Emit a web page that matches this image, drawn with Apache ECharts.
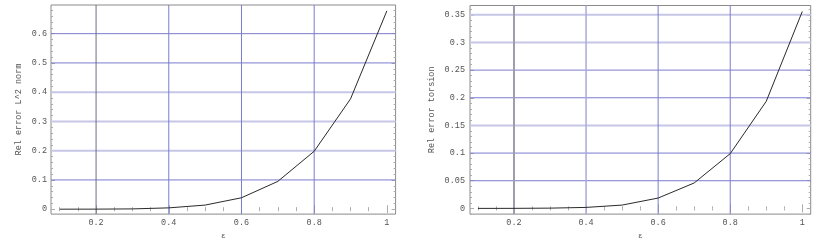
<!DOCTYPE html>
<html><head><meta charset="utf-8">
<script src="https://cdn.jsdelivr.net/npm/echarts@6/dist/echarts.min.js"></script>
<style>html,body{margin:0;padding:0;background:#fff;}#c{width:831px;height:245px;}</style>
</head><body><div id="c"></div>
<script>
// ---- data ----
var eps = [0.1, 0.2, 0.3, 0.4, 0.5, 0.6, 0.7, 0.8, 0.9, 1.0];
var relErrL2 = [0, 0.0002, 0.001, 0.0045, 0.014, 0.039, 0.095, 0.198, 0.377, 0.678];
var relErrTorsion = [0, 0.0001, 0.0005, 0.0018, 0.006, 0.0187, 0.046, 0.099, 0.1936, 0.356];
var xTicks = [0.2, 0.4, 0.6, 0.8, 1];
var yTicksL = [0, 0.1, 0.2, 0.3, 0.4, 0.5, 0.6];
var yTicksR = [0, 0.05, 0.1, 0.15, 0.2, 0.25, 0.3, 0.35];
var xGridL = [0.2, 0.4, 0.6, 0.8];
var yGridL = [0.1, 0.2, 0.3, 0.4, 0.5, 0.6];
var xGridR = [0.2, 0.4, 0.6, 0.8];
var yGridR = [0.05, 0.1, 0.15, 0.2, 0.25, 0.3, 0.35];

// ---- styles ----
var FONT = "'Liberation Mono','DejaVu Sans Mono',monospace";
var TXT = '#555';
var FRAME = '#8a8a8a';
var TICK = '#ababab';
var S_DARK = {color: '#6c6c86', width: 1};
var S_GRAY = {color: '#9c9cab', width: 2};
var S_BLUE = {color: '#7b7bcf', width: 1};
var S_LBLUE = {color: '#a9a9dd', width: 1.5};
var S_LAV = {color: '#c6c6e7', width: 2};
var xStyleL = [S_DARK, S_BLUE, S_BLUE, S_BLUE];
var yStyleL = [S_BLUE, S_LAV, S_LAV, S_LAV, S_BLUE, S_BLUE];
var xStyleR = [S_GRAY, S_LBLUE, S_BLUE, S_BLUE];
var yStyleR = [S_BLUE, S_BLUE, S_LAV, S_BLUE, S_BLUE, S_LAV, S_LAV];

function minorVals(min, max, step) {
  var out = [];
  var start = Math.ceil(min / step - 1e-9);
  for (var k = start; k * step <= max + 1e-9; k++) out.push(+(k * step).toFixed(6));
  return out;
}

var grids = [
  {left: 51, right: 831 - 395.6, top: 5, bottom: 245 - 218.3, show: true, borderColor: FRAME, borderWidth: 1, backgroundColor: 'transparent'},
  {left: 470, right: 831 - 810.7, top: 5.5, bottom: 245 - 218.3, show: true, borderColor: FRAME, borderWidth: 1, backgroundColor: 'transparent'}
];
var ranges = [
  {xMin: 0.076, xMax: 1.024, yMin: -0.0168, yMax: 0.698, yTicks: yTicksL, yMinor: 0.02, yName: 'Rel error L^2 norm', nameGap: 28, labMargin: 4,
   xg: xGridL, yg: yGridL, xs: xStyleL, ys: yStyleL, vals: relErrL2},
  {xMin: 0.078, xMax: 1.0233, yMin: -0.0103, yMax: 0.3668, yTicks: yTicksR, yMinor: 0.01, yName: 'Rel error torsion', nameGap: 34, labMargin: 5,
   xg: xGridR, yg: yGridR, xs: xStyleR, ys: yStyleR, vals: relErrTorsion}
];

var xAxes = [], yAxes = [], series = [];
ranges.forEach(function (r, gi) {
  var xMinors = minorVals(r.xMin, r.xMax, 0.05);
  var yMinors = minorVals(r.yMin, r.yMax, r.yMinor);
  var baseX = {type: 'value', gridIndex: gi, min: r.xMin, max: r.xMax, splitLine: {show: false}, axisLine: {show: false}};
  var baseY = {type: 'value', gridIndex: gi, min: r.yMin, max: r.yMax, splitLine: {show: false}, axisLine: {show: false}};
  r.xi = xAxes.length; r.yi = yAxes.length;
  xAxes.push(Object.assign({}, baseX, {position: 'bottom', name: 'ε', nameLocation: 'middle', nameGap: 13,
    nameTextStyle: {fontFamily: FONT, fontSize: 8, color: TXT},
    axisTick: {show: true, inside: true, length: 4, customValues: xTicks, lineStyle: {color: TICK}},
    axisLabel: {show: true, margin: 4, customValues: xTicks, fontFamily: FONT, fontSize: 8.5, color: TXT}}));
  xAxes.push(Object.assign({}, baseX, {position: 'bottom', axisTick: {show: true, inside: true, length: 2, customValues: xMinors, lineStyle: {color: TICK}}, axisLabel: {show: false}}));
  xAxes.push(Object.assign({}, baseX, {position: 'top', axisTick: {show: true, inside: true, length: 4, customValues: xTicks, lineStyle: {color: TICK}}, axisLabel: {show: false}}));
  xAxes.push(Object.assign({}, baseX, {position: 'top', axisTick: {show: true, inside: true, length: 2, customValues: xMinors, lineStyle: {color: TICK}}, axisLabel: {show: false}}));
  yAxes.push(Object.assign({}, baseY, {position: 'left', name: r.yName, nameLocation: 'middle', nameGap: r.nameGap, nameRotate: 90,
    nameTextStyle: {fontFamily: FONT, fontSize: 8.5, color: TXT},
    axisTick: {show: true, inside: true, length: 4, customValues: r.yTicks, lineStyle: {color: TICK}},
    axisLabel: {show: true, margin: r.labMargin, customValues: r.yTicks, fontFamily: FONT, fontSize: 8.5, color: TXT}}));
  yAxes.push(Object.assign({}, baseY, {position: 'left', axisTick: {show: true, inside: true, length: 2, customValues: yMinors, lineStyle: {color: TICK}}, axisLabel: {show: false}}));
  yAxes.push(Object.assign({}, baseY, {position: 'right', axisTick: {show: true, inside: true, length: 4, customValues: r.yTicks, lineStyle: {color: TICK}}, axisLabel: {show: false}}));
  yAxes.push(Object.assign({}, baseY, {position: 'right', axisTick: {show: true, inside: true, length: 2, customValues: yMinors, lineStyle: {color: TICK}}, axisLabel: {show: false}}));

  var pts = eps.map(function (e, i) { return [e, r.vals[i]]; });
  series.push({type: 'line', xAxisIndex: r.xi, yAxisIndex: r.yi, data: pts, z: 5,
    lineStyle: {color: '#2a2a2a', width: 1}, itemStyle: {color: '#2a2a2a'}, showSymbol: false, symbol: 'none', emphasis: {disabled: true}});
});

var chart = echarts.init(document.getElementById('c'), null, {renderer: 'canvas'});
chart.setOption({animation: false, backgroundColor: '#fff', grid: grids, xAxis: xAxes, yAxis: yAxes, series: series});

// grid lines: positions converted from the tick arrays through the chart's own axes
var els = [];
ranges.forEach(function (r) {
  var finder = {xAxisIndex: r.xi, yAxisIndex: r.yi};
  r.yg.forEach(function (v, i) {
    var a = chart.convertToPixel(finder, [r.xMin, v]);
    var b = chart.convertToPixel(finder, [r.xMax, v]);
    els.push({type: 'line', silent: true, z: 1, shape: {x1: a[0], y1: a[1], x2: b[0], y2: b[1]},
      style: {stroke: r.ys[i].color, lineWidth: r.ys[i].width, fill: null}});
  });
  r.xg.forEach(function (v, i) {
    var a = chart.convertToPixel(finder, [v, r.yMin]);
    var b = chart.convertToPixel(finder, [v, r.yMax]);
    els.push({type: 'line', silent: true, z: 1, shape: {x1: a[0], y1: a[1], x2: b[0], y2: b[1]},
      style: {stroke: r.xs[i].color, lineWidth: r.xs[i].width, fill: null}});
  });
});
chart.setOption({graphic: {elements: els}});
</script></body></html>
